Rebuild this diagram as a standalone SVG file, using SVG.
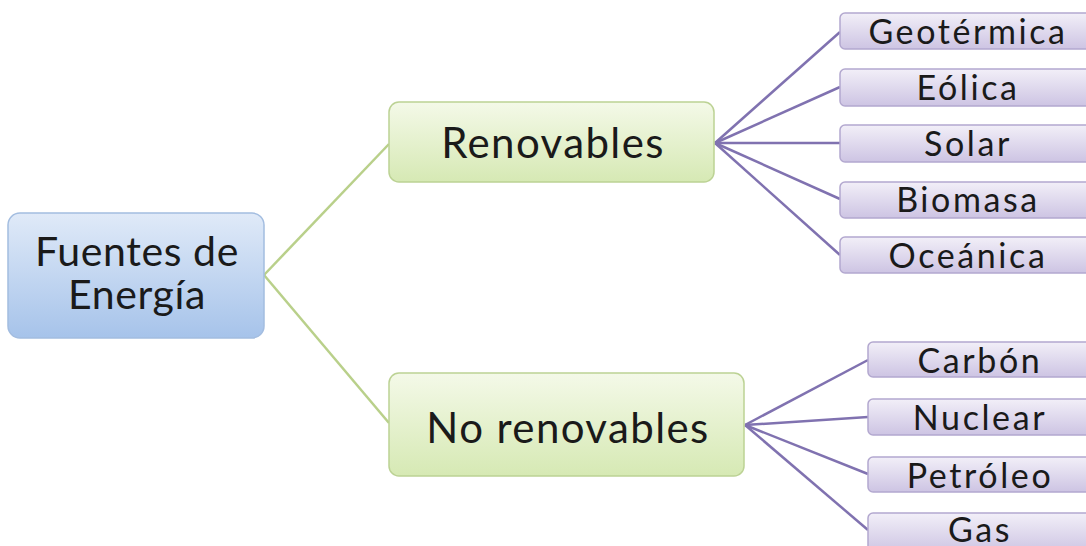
<svg xmlns="http://www.w3.org/2000/svg" width="1086" height="546" viewBox="0 0 1086 546">
<defs>
<linearGradient id="gBlue" x1="0" y1="0" x2="0" y2="1"><stop offset="0" stop-color="#e0eaf8"/><stop offset="1" stop-color="#a6c3ea"/></linearGradient>
<linearGradient id="gGreen" x1="0" y1="0" x2="0" y2="1"><stop offset="0" stop-color="#f4f9e8"/><stop offset="1" stop-color="#d6e9b4"/></linearGradient>
<linearGradient id="gPurple" x1="0" y1="0" x2="0" y2="1"><stop offset="0" stop-color="#f2eff8"/><stop offset="1" stop-color="#cdc4e3"/></linearGradient>
</defs>
<style>
.t{font-family:Lato,"Open Sans","Liberation Sans",sans-serif;fill:#1a1a1a;text-anchor:middle}
.m{font-size:42px;letter-spacing:1.4px}
.l{font-size:34px;letter-spacing:2.6px}
.r{font-size:41px;letter-spacing:0.6px}
.root{fill:url(#gBlue);stroke:#a3bde0;stroke-width:1.5}
.mid{fill:url(#gGreen);stroke:#bcd294;stroke-width:1.5}
.leaf{fill:url(#gPurple);stroke:#b3a8cf;stroke-width:1.5}
.lg{stroke:#b9d08a;stroke-width:2.5;fill:none}
.lp{stroke:#8072b0;stroke-width:2.5;fill:none}
</style>
<rect width="1086" height="546" fill="#ffffff"/>
<g id="connectors">
<line class="lg" x1="264" y1="275" x2="389" y2="144"/>
<line class="lg" x1="264" y1="275" x2="389" y2="423"/>
<line class="lp" x1="715" y1="143" x2="840" y2="32"/>
<line class="lp" x1="715" y1="143" x2="840" y2="87"/>
<line class="lp" x1="715" y1="143" x2="840" y2="143"/>
<line class="lp" x1="715" y1="143" x2="840" y2="199"/>
<line class="lp" x1="715" y1="143" x2="840" y2="255"/>
<line class="lp" x1="745" y1="425" x2="868" y2="360"/>
<line class="lp" x1="745" y1="425" x2="868" y2="417"/>
<line class="lp" x1="745" y1="425" x2="868" y2="474"/>
<line class="lp" x1="745" y1="425" x2="868" y2="530"/>
</g>
<g id="root"><rect class="root" x="8" y="213" width="256" height="125" rx="12"/>
<text class="t r" x="137" y="266">Fuentes de</text>
<text class="t r" x="137" y="309">Energía</text></g>
<g id="renovables"><rect class="mid" x="389" y="102" width="325" height="80" rx="10"/>
<text class="t m" x="553" y="158">Renovables</text></g>
<g id="norenovables"><rect class="mid" x="389" y="373" width="355" height="103" rx="10"/>
<text class="t m" x="568" y="443">No renovables</text></g>
<g id="geotermica"><rect class="leaf" x="840" y="13" width="260" height="36" rx="5"/><text class="t l" x="968" y="44">Geotérmica</text></g>
<g id="eolica"><rect class="leaf" x="840" y="69" width="260" height="37" rx="5"/><text class="t l" x="968" y="100">Eólica</text></g>
<g id="solar"><rect class="leaf" x="840" y="125" width="260" height="37" rx="5"/><text class="t l" x="968" y="156">Solar</text></g>
<g id="biomasa"><rect class="leaf" x="840" y="182" width="260" height="36" rx="5"/><text class="t l" x="968" y="212">Biomasa</text></g>
<g id="oceanica"><rect class="leaf" x="840" y="237" width="260" height="36" rx="5"/><text class="t l" x="968" y="268">Oceánica</text></g>
<g id="carbon"><rect class="leaf" x="868" y="342" width="240" height="35" rx="5"/><text class="t l" x="980" y="373">Carbón</text></g>
<g id="nuclear"><rect class="leaf" x="868" y="399" width="240" height="36" rx="5"/><text class="t l" x="980" y="430">Nuclear</text></g>
<g id="petroleo"><rect class="leaf" x="868" y="457" width="240" height="35" rx="5"/><text class="t l" x="980" y="488">Petróleo</text></g>
<g id="gas"><rect class="leaf" x="868" y="513" width="240" height="40" rx="5"/><text class="t l" x="980" y="542">Gas</text></g>
</svg>
